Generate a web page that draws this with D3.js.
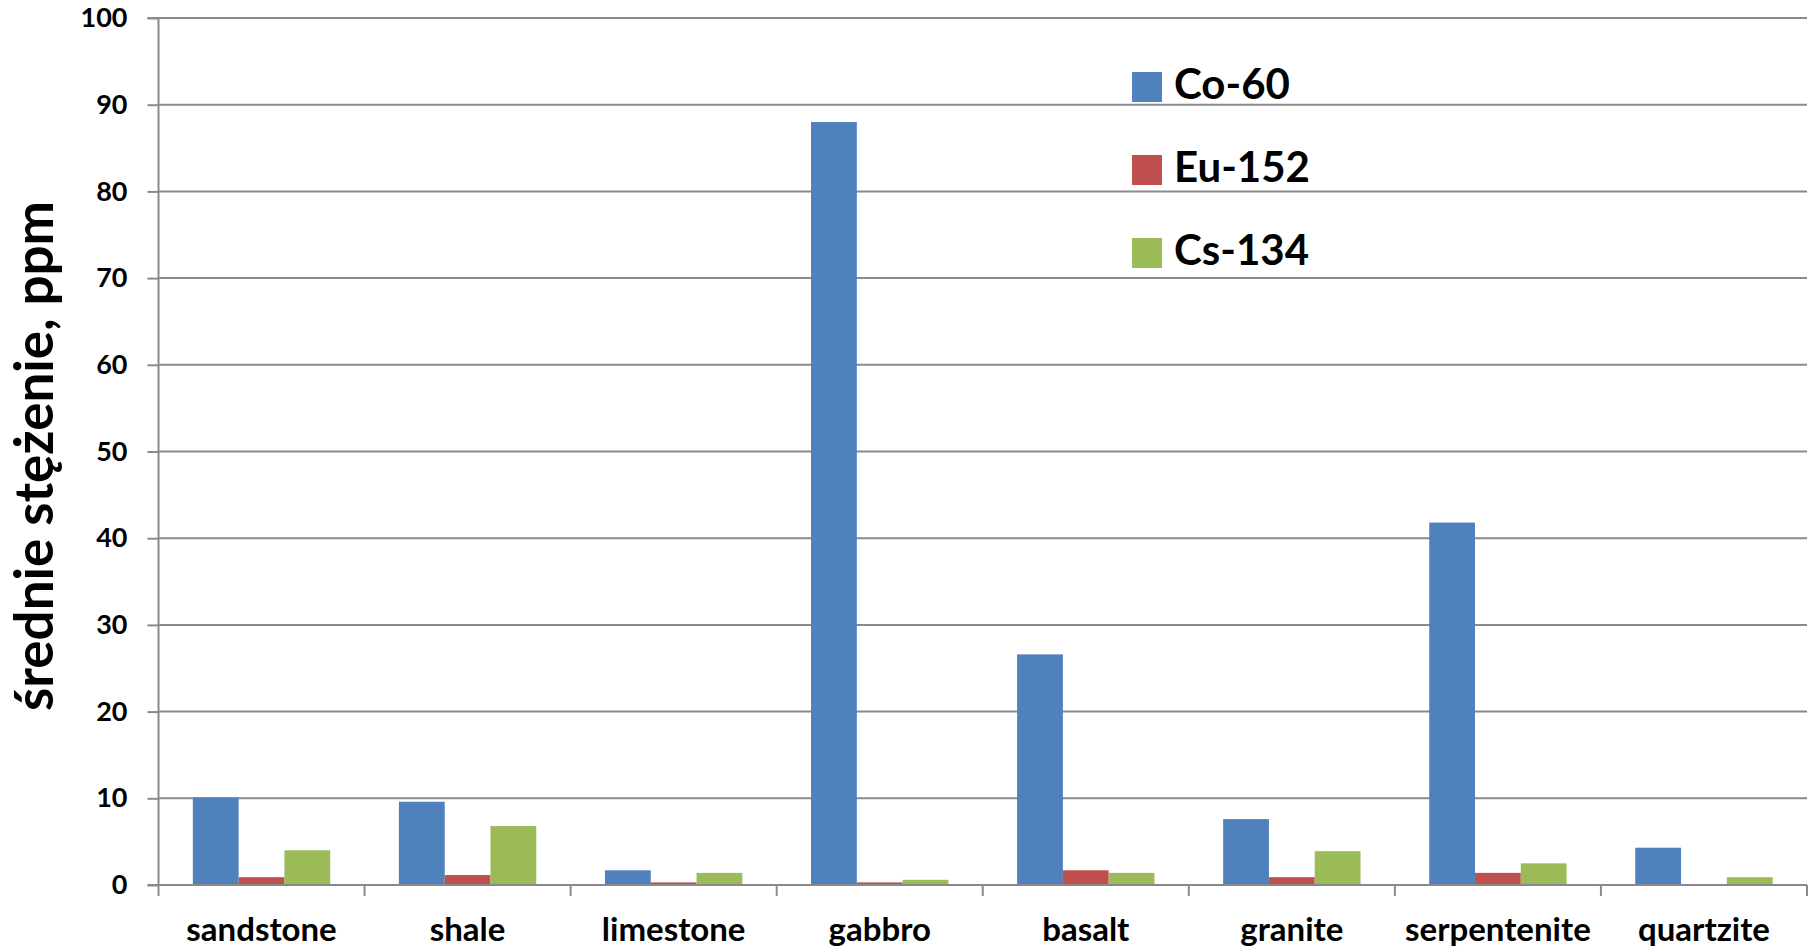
<!DOCTYPE html>
<html>
<head>
<meta charset="utf-8">
<script src="https://cdn.jsdelivr.net/npm/d3@7"></script>
<style>
  html, body { margin: 0; padding: 0; background: #ffffff; }
  svg { display: block; }
  text { font-family: Lato, "Open Sans", "DejaVu Sans", sans-serif; font-weight: bold; fill: #000; }
</style>
</head>
<body>
<svg id="chart" width="1814" height="951"></svg>
<script>
// Rock types on the category axis
const categories = ["sandstone", "shale", "limestone", "gabbro", "basalt", "granite", "serpentenite", "quartzite"];
// Isotope series
const seriesNames = ["Co-60", "Eu-152", "Cs-134"];
const seriesColors = ["#4F81BD", "#C0504D", "#9BBB59"];
// Mean concentrations (ppm) per rock type
const co60  = [10.1, 9.6, 1.7, 88.0, 26.6, 7.6, 41.8, 4.3];
const eu152 = [0.9, 1.15, 0.3, 0.3, 1.7, 0.9, 1.4, 0.0];
const cs134 = [4.0, 6.8, 1.4, 0.6, 1.4, 3.9, 2.5, 0.9];
// Value axis ticks
const yTicks = [0, 10, 20, 30, 40, 50, 60, 70, 80, 90, 100];
const yTitle = "średnie stężenie, ppm";

const seriesValues = [co60, eu152, cs134];
const rows = categories.map((c, i) => ({
  category: c,
  values: seriesNames.map((s, k) => ({ series: s, value: seriesValues[k][i], color: seriesColors[k] }))
}));

const svg = d3.select("#chart");
const plot = { left: 158.5, right: 1807, top: 18, bottom: 885 };
const gridColor = "#8a8a8a";

const y = d3.scaleLinear().domain([0, 100]).range([plot.bottom, plot.top]);
const x0 = d3.scaleBand().domain(categories).range([plot.left, plot.right]).padding(0);
const bw = x0.bandwidth();
const x1 = d3.scaleBand().domain(seriesNames).range([bw / 6, bw * 5 / 6]).padding(0);

// Horizontal gridlines
svg.append("g")
  .selectAll("line")
  .data(yTicks.filter(t => t > 0))
  .join("line")
  .attr("x1", plot.left).attr("x2", plot.right)
  .attr("y1", d => y(d)).attr("y2", d => y(d))
  .attr("stroke", gridColor).attr("stroke-width", 2);

// Bars
const groups = svg.append("g")
  .selectAll("g")
  .data(rows)
  .join("g")
  .attr("transform", d => `translate(${x0(d.category)},0)`);

groups.selectAll("rect")
  .data(d => d.values)
  .join("rect")
  .attr("x", d => x1(d.series))
  .attr("width", x1.bandwidth())
  .attr("y", d => y(d.value))
  .attr("height", d => y(0) - y(d.value))
  .attr("fill", d => d.color);

// Y axis
const yAxis = d3.axisLeft(y).tickValues(yTicks).tickSize(11).tickPadding(20).tickFormat(d3.format("d"));
const gy = svg.append("g").attr("transform", `translate(${plot.left},0)`).call(yAxis);
gy.select(".domain").attr("stroke", gridColor).attr("stroke-width", 2).attr("d", `M-11,${plot.top}H0V${plot.bottom}H-11`);
gy.selectAll(".tick line").attr("stroke", gridColor).attr("stroke-width", 2);
gy.selectAll(".tick text").style("font-size", "27px").style("font-family", "Lato, sans-serif").style("font-weight", "bold").attr("fill", "#000");

// X axis with tick marks at category boundaries
const xAxis = d3.axisBottom(x0).tickSize(0);
const gx = svg.append("g").attr("transform", `translate(0,${plot.bottom})`).call(xAxis);
gx.select(".domain").attr("stroke", gridColor).attr("stroke-width", 2).attr("d", `M${plot.left},0H${plot.right}`);
gx.selectAll(".tick text")
  .style("font-size", "33px").style("font-family", "Lato, sans-serif").style("font-weight", "bold")
  .attr("fill", "#000").attr("y", 56).attr("dy", 0);
const boundaries = categories.map(c => x0(c)).concat([x0(categories[categories.length - 1]) + bw]);
gx.append("g").selectAll("line")
  .data(boundaries)
  .join("line")
  .attr("x1", d => d).attr("x2", d => d)
  .attr("y1", 0).attr("y2", 11)
  .attr("stroke", gridColor).attr("stroke-width", 2);

// Y axis title
svg.append("text")
  .attr("transform", `translate(53,456) rotate(-90)`)
  .attr("text-anchor", "middle")
  .style("font-size", "53px")
  .text(yTitle);

// Legend
const legend = svg.append("g").attr("transform", "translate(1132,72)");
const li = legend.selectAll("g")
  .data(seriesNames)
  .join("g")
  .attr("transform", (d, i) => `translate(0,${i * 83})`);
li.append("rect").attr("width", 30).attr("height", 30).attr("fill", (d, i) => seriesColors[i]);
li.append("text").attr("x", 42).attr("y", 27).style("font-size", "42px").text(d => d);
</script>
</body>
</html>
